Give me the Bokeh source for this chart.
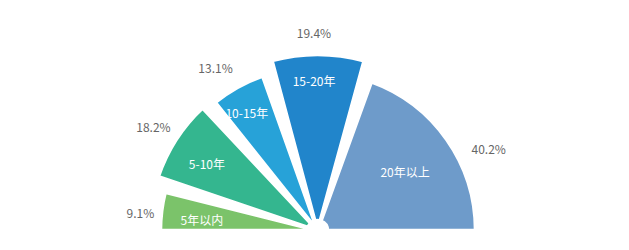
import math
from bokeh.plotting import figure
from bokeh.models import Range1d, ColumnDataSource
from bokeh.core.properties import value
from bokeh.embed import file_html
from bokeh.resources import INLINE

# ---- data ----
categories = ["5年以内", "5-10年", "10-15年", "15-20年", "20年以上"]
shares = [9.1, 18.2, 13.1, 19.4, 40.2]
pct_labels = ["9.1%", "18.2%", "13.1%", "19.4%", "40.2%"]

# ---- styles ----
colors = ["#7bc36a", "#34b68f", "#27a2d8", "#2185cb", "#6e9bca"]
outer_r = [157, 168, 164, 176, 158]          # px
inner_label_frac = [0.74, 0.77, 0.84, 0.85, 0.67]
inner_label_shift = [3.0, 1.5, 1.8, 1.5, -2.0]   # degrees
pct_r = [178, 194, 192, 198, 190]
pct_shift = [2.5, 0.5, 3.0, 1.2, -10.5]       # degrees
pad_deg = 2.3
W, H = 629, 250
cx, cy = 317, 20

total = sum(shares)
starts, ends, mids = [], [], []
cur = 180.0
for i, s in enumerate(shares):
    span = 180.0 * s / total
    hi = cur
    lo = cur - span
    mids.append((hi + lo) / 2)
    e = hi - (pad_deg if i > 0 else 0)
    st = lo + (pad_deg if i < len(shares) - 1 else 0)
    starts.append(math.radians(st))
    ends.append(math.radians(e))
    cur = lo

src = ColumnDataSource(dict(
    x=[cx] * len(shares), y=[cy] * len(shares),
    start=starts, end=ends, r=outer_r, color=colors))

p = figure(width=W, height=H, x_range=Range1d(0, W), y_range=Range1d(0, H),
           output_backend="svg", toolbar_location=None, min_border=0)
p.axis.visible = False
p.grid.visible = False
p.outline_line_color = None
p.background_fill_color = "white"

p.annular_wedge(x="x", y="y", inner_radius=10, outer_radius="r",
                start_angle="start", end_angle="end", fill_color="color",
                line_color="white", line_width=3.5, source=src)

ix = [cx + outer_r[i] * inner_label_frac[i] * math.cos(math.radians(mids[i] + inner_label_shift[i])) for i in range(len(shares))]
iy = [cy + outer_r[i] * inner_label_frac[i] * math.sin(math.radians(mids[i] + inner_label_shift[i])) for i in range(len(shares))]
p.text(x=ix, y=iy, text=categories, text_color="white", text_font=value("Noto Sans CJK SC"),
       text_font_size="12px", text_align="center", text_baseline="middle")

px = [cx + pct_r[i] * math.cos(math.radians(mids[i] + pct_shift[i])) for i in range(len(shares))]
py = [cy + pct_r[i] * math.sin(math.radians(mids[i] + pct_shift[i])) for i in range(len(shares))]
p.text(x=px, y=py, text=pct_labels, text_color="#666666", text_font=value("Noto Sans CJK SC"),
       text_font_size="12px", text_align="center", text_baseline="middle")

open("out.html", "w").write(file_html(p, INLINE))
